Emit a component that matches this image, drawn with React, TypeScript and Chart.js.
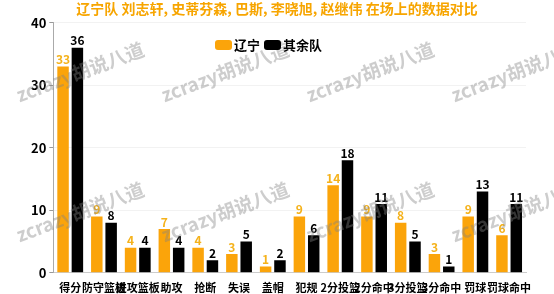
import React, { useEffect, useRef } from "react";
import { Chart, registerables } from "chart.js";

Chart.register(...registerables);

const TITLE = "辽宁队 刘志轩, 史蒂芬森, 巴斯, 李晓旭, 赵继伟 在场上的数据对比";
const categories = ["得分", "防守篮板", "进攻篮板", "助攻", "抢断", "失误", "盖帽", "犯规", "2分投篮", "2分命中", "3分投篮", "3分命中", "罚球", "罚球命中"];
const liaoning = [33, 9, 4, 7, 4, 3, 1, 9, 14, 9, 8, 3, 9, 6];
const others = [36, 8, 4, 4, 2, 5, 2, 6, 18, 11, 5, 1, 13, 11];
const seriesNames = ["辽宁", "其余队"];
const yTicks = [0, 10, 20, 30, 40];
const watermark = "zcrazy胡说八道";

const ORANGE = "#FBA40A";
const COLORS = [ORANGE, "#000000"];
const FONT = "'Noto Sans CJK SC', 'DejaVu Sans', sans-serif";

const labelPlugin = {
  id: "barLabels",
  afterDatasetsDraw(chart: any) {
    const ctx = chart.ctx;
    ctx.save();
    ctx.textAlign = "center";
    ctx.textBaseline = "bottom";
    chart.data.datasets.forEach((ds: any, di: number) => {
      const meta = chart.getDatasetMeta(di);
      ctx.font = `bold 12px ${FONT}`;
      ctx.fillStyle = di === 0 ? "#F5B21B" : "#000";
      meta.data.forEach((bar: any, i: number) => {
        ctx.fillText(String(ds.data[i]), bar.x, bar.y - 1);
      });
    });
    ctx.restore();
  },
};

const legendPlugin = {
  id: "customLegend",
  afterDraw(chart: any) {
    const ctx = chart.ctx;
    ctx.save();
    ctx.font = `bold 13px ${FONT}`;
    ctx.textBaseline = "middle";
    ctx.textAlign = "left";
    const y = 45;
    let x = 215;
    chart.data.datasets.forEach((ds: any, di: number) => {
      ctx.fillStyle = COLORS[di];
      ctx.beginPath();
      ctx.roundRect(x, y - 5, 17, 10, 3);
      ctx.fill();
      x += 19;
      ctx.fillStyle = "#000";
      ctx.fillText(ds.label, x, y);
      x += ctx.measureText(ds.label).width + 4;
    });
    ctx.restore();
  },
};

const watermarkPlugin = {
  id: "watermark",
  afterDraw(chart: any) {
    const ctx = chart.ctx;
    ctx.save();
    ctx.font = `bold 19px ${FONT}`;
    ctx.fillStyle = "rgba(130,130,130,0.4)";
    ctx.textAlign = "center";
    ctx.textBaseline = "middle";
    const xs = [80, 225, 370, 515];
    const ys = [72, 212];
    ys.forEach((y) => {
      xs.forEach((x) => {
        ctx.save();
        ctx.translate(x, y);
        ctx.rotate(-0.36);
        ctx.fillText(watermark, 0, 0);
        ctx.restore();
      });
    });
    ctx.restore();
  },
};

export default function App() {
  const ref = useRef<HTMLCanvasElement>(null);
  useEffect(() => {
    document.body.style.margin = "0";
    const chart = new Chart(ref.current!, {
      type: "bar",
      data: {
        labels: categories,
        datasets: [
          { label: seriesNames[0], data: liaoning, backgroundColor: COLORS[0], barPercentage: 0.8, categoryPercentage: 0.85 },
          { label: seriesNames[1], data: others, backgroundColor: COLORS[1], barPercentage: 0.8, categoryPercentage: 0.85 },
        ],
      },
      options: {
        animation: false,
        responsive: false,
        maintainAspectRatio: false,
        layout: { padding: { left: 28, right: 28, top: 0, bottom: 0 } },
        plugins: {
          title: {
            display: true,
            text: TITLE,
            color: "#F7A500",
            font: { family: FONT, size: 14, weight: "bold" },
            padding: { top: 0, bottom: 6 },
          },
          legend: { display: false },
          tooltip: { enabled: false },
        },
        scales: {
          x: {
            grid: { display: false },
            border: { color: "#ccc" },
            ticks: {
              autoSkip: false,
              maxRotation: 0,
              color: "#000",
              padding: 0,
              font: { family: FONT, size: 11, weight: "bold" },
            },
          },
          y: {
            min: 0,
            max: 40,
            afterBuildTicks: (axis: any) => {
              axis.ticks = yTicks.map((v) => ({ value: v }));
            },
            grid: { color: "#f2f2f2", tickLength: 4, tickColor: "#999" },
            border: { color: "#aaa" },
            ticks: {
              color: "#000",
              padding: 3,
              font: { family: FONT, size: 13, weight: "bold" },
            },
          },
        },
      },
      plugins: [labelPlugin, watermarkPlugin, legendPlugin],
    });
    return () => chart.destroy();
  }, []);
  return <canvas ref={ref} width={554} height={294} style={{ display: "block" }} />;
}
